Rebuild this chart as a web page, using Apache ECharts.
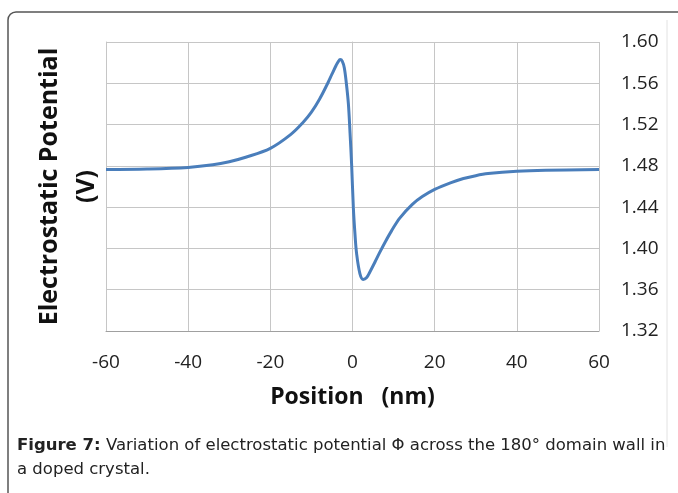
<!DOCTYPE html>
<html lang="en">
<head>
    <meta charset="UTF-8">
    <title>Electrostatic potential</title>
    <script src="https://cdn.jsdelivr.net/npm/echarts@6/dist/echarts.min.js"></script>
</head>
<body style="margin: 0; background: #fff;">
<div id="container" style="width: 678px; height: 493px;"></div>
<script type="text/javascript">

    // position (nm) and potential (V)
    let positions = [-60, -50, -40, -34, -30, -26, -20, -15, -12, -10, -8, -6, -5, -4, -3.5, -3,
        -2.5, -2, -1.5, -1, -0.6, -0.2, 0.2, 0.6, 1, 1.8, 2.6, 3.4, 4.2, 5.5, 6.6, 8, 9.5,
        11.5, 14.5, 17, 20, 24, 27, 30, 33, 40, 47, 60];
    let potential = [1.4765, 1.477, 1.4785, 1.481, 1.484, 1.4883, 1.497, 1.5105, 1.5222, 1.532,
        1.5448, 1.5603, 1.5688, 1.5772, 1.5808, 1.583, 1.5815, 1.575, 1.560, 1.54, 1.512, 1.48,
        1.44, 1.414, 1.395, 1.3757, 1.370, 1.3715, 1.377, 1.3871, 1.3959, 1.4065, 1.417,
        1.4294, 1.4425, 1.4502, 1.4572, 1.4638, 1.4677, 1.4705, 1.4725, 1.4748, 1.4758, 1.4764];

    let xTicks = [-60, -40, -20, 0, 20, 40, 60];
    let yTicks = [1.32, 1.36, 1.40, 1.44, 1.48, 1.52, 1.56, 1.60];

    let points = positions.map(function (p, i) {
        return [p, potential[i]];
    });

    let gridColor = '#c6c6c6';
    let tickFont = 'Open Sans';

    let myChart = echarts.init(document.getElementById('container'));
    let option = {
        backgroundColor: '#fff',
        animation: false,
        title: {
            left: 12,
            top: 429,
            text: '{b|Figure 7:} Variation of electrostatic potential Φ across the 180° domain wall in\na doped crystal.',
            textStyle: {
                fontFamily: 'DejaVu Sans',
                fontSize: 16.5,
                fontWeight: 'normal',
                color: '#222',
                lineHeight: 24,
                rich: {
                    b: {fontFamily: 'DejaVu Sans', fontSize: 16.5, fontWeight: 'bold', color: '#222', lineHeight: 24}
                }
            }
        },
        graphic: [{
            type: 'rect',
            shape: {x: 8, y: 12, width: 700, height: 520, r: 8},
            style: {fill: 'none', stroke: '#555', lineWidth: 1.5},
            silent: true
        }, {
            type: 'line',
            shape: {x1: 667, y1: 20, x2: 667, y2: 447},
            style: {stroke: '#e2e2e2', lineWidth: 1},
            silent: true
        }],
        grid: {left: 106, right: 79, top: 42, bottom: 162},
        xAxis: {
            type: 'value',
            min: xTicks[0],
            max: xTicks[xTicks.length - 1],
            interval: 20,
            name: 'Position   (nm)',
            nameLocation: 'middle',
            nameGap: 55,
            nameTextStyle: {fontFamily: tickFont, fontSize: 23, fontWeight: 'bold', color: '#111'},
            axisLine: {lineStyle: {color: '#a0a0a0'}},
            axisTick: {show: false},
            axisLabel: {margin: 22, fontFamily: tickFont, fontSize: 19, color: '#222'},
            splitLine: {show: true, lineStyle: {color: gridColor, width: 1}}
        },
        yAxis: [{
            type: 'value',
            position: 'right',
            min: yTicks[0],
            max: yTicks[yTicks.length - 1],
            interval: 0.04,
            axisLine: {show: true, lineStyle: {color: gridColor}},
            axisTick: {show: false},
            axisLabel: {
                margin: 22, fontFamily: tickFont, fontSize: 19, color: '#222',
                formatter: function (v) { return v.toFixed(2); }
            },
            splitLine: {show: true, lineStyle: {color: gridColor, width: 1}}
        }, {
            type: 'value',
            position: 'left',
            min: yTicks[0],
            max: yTicks[yTicks.length - 1],
            interval: 0.04,
            name: 'Electrostatic Potential\n(V)',
            nameLocation: 'middle',
            nameRotate: 90,
            nameGap: 1,
            nameTextStyle: {fontFamily: tickFont, fontSize: 25, fontWeight: 'bold', color: '#111', lineHeight: 37},
            axisLine: {show: true, lineStyle: {color: gridColor}},
            axisTick: {show: false},
            axisLabel: {show: false},
            splitLine: {show: false}
        }],
        series: [{
            type: 'line',
            data: points,
            smooth: 0.35,
            showSymbol: false,
            lineStyle: {color: '#4a7ebb', width: 3},
            itemStyle: {color: '#4a7ebb'}
        }]
    };
    myChart.setOption(option);

</script>
</body>
</html>
